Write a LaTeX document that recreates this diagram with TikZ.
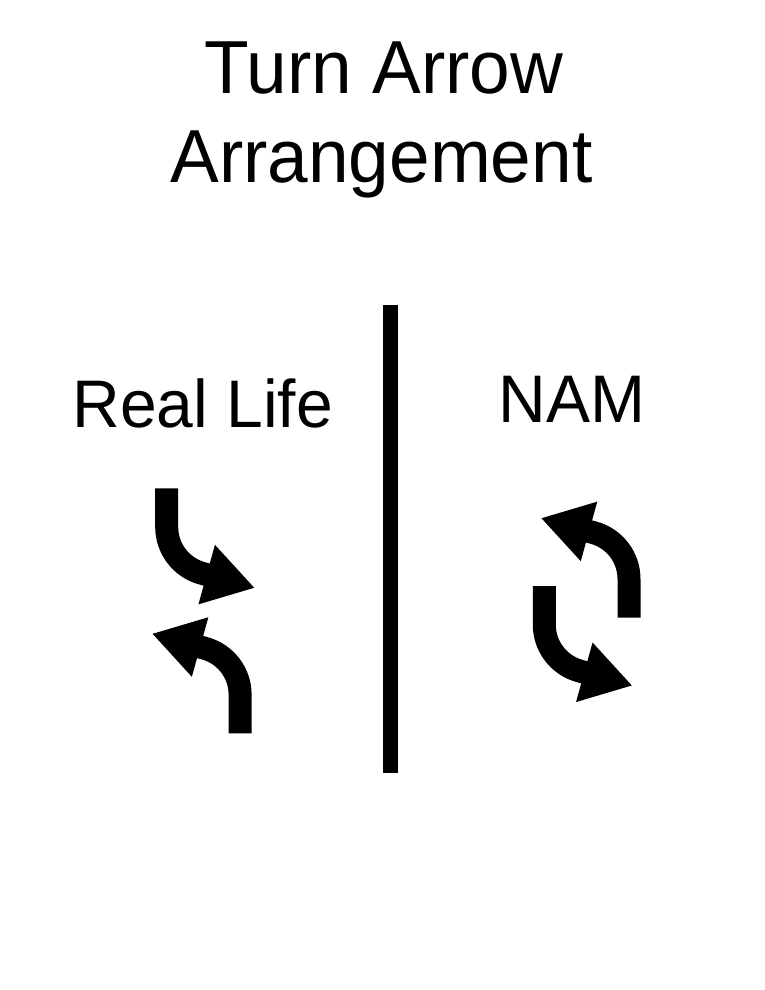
\documentclass[tikz,border=0pt]{standalone}
\usepackage{fontspec}
\setmainfont{Liberation Sans}
\usepackage{graphicx}
\usetikzlibrary{arrows.meta}
\newcommand\titlesize{\fontsize{73pt}{80pt}\selectfont}
\newcommand\sidesize{\fontsize{66pt}{72pt}\selectfont}
\newcommand\tall[2][1.03]{\scalebox{1}[#1]{#2}}
\begin{document}
\begin{tikzpicture}[x=1pt,y=-1pt,
  turn/.style={line width=23pt,-{Triangle[width=58pt,length=50pt]}}]
\useasboundingbox (0,0) rectangle (765,990);
% title
\node[anchor=base,font=\titlesize] (title1) at (384,93) {\tall{Turn Arrow}};
\node[anchor=base,font=\titlesize] (title2) at (381.5,182) {\tall{Arrangement}};
% divider
\draw[line width=15pt] (390.5,305) -- (390.5,773);
% headings
\node[anchor=base,font=\sidesize] (reallife) at (202.7,427) {\tall[1.02]{Real Life}};
\node[anchor=base,font=\sidesize] (nam) at (572,422) {\tall[1.02]{NAM}};
% real life arrows
\draw[turn] (166.7,488.3) -- ++(0,38.7) arc[start angle=180,end angle=105.5,radius=48] -- ++(15.5:55);
\draw[turn] (240.1,733.3) -- ++(0,-38.7) arc[start angle=0,end angle=-74.5,radius=48] -- ++(195.5:55);
% nam arrows
\draw[turn] (629,617.7) -- ++(0,-38.7) arc[start angle=0,end angle=-74.5,radius=48] -- ++(195.5:55);
\draw[turn] (544.3,586) -- ++(0,38.7) arc[start angle=180,end angle=105.5,radius=48] -- ++(15.5:55);
\end{tikzpicture}
\end{document}
